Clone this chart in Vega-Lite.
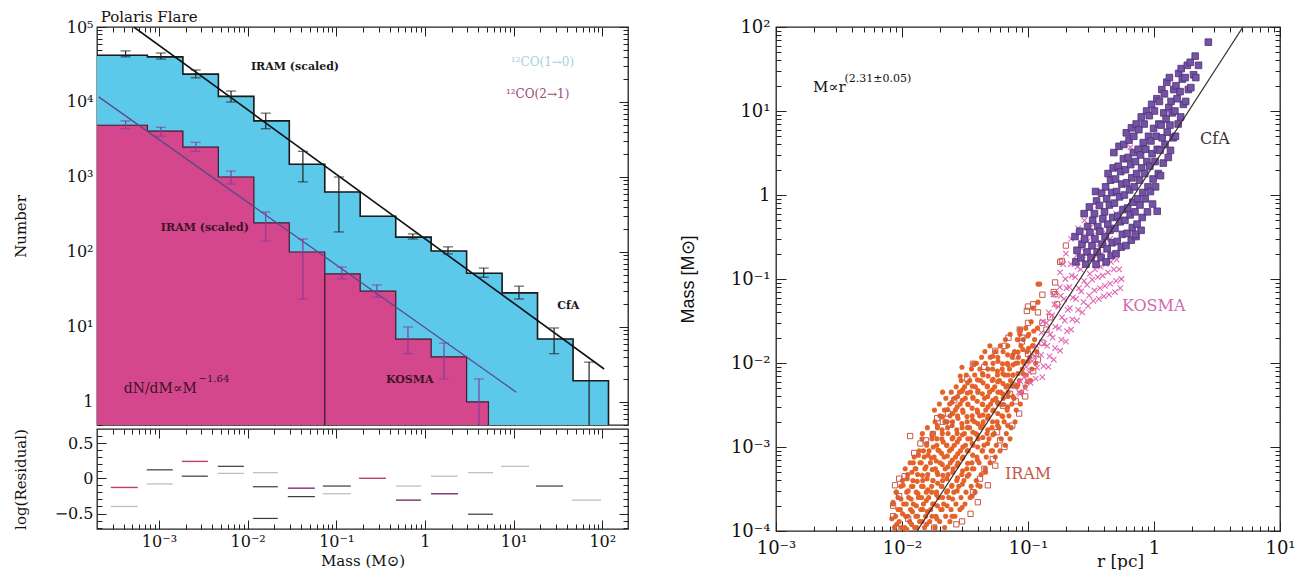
{
"$schema":"https://vega.github.io/schema/vega-lite/v6.json",
"background":"white",
"padding":{"left":12,"top":9,"right":5,"bottom":0},
"config":{
 "view":{"stroke":"#222","strokeWidth":1.3},
 "axis":{"domain":false,"grid":false,"tickColor":"#222","tickWidth":1,"labelFont":"DejaVu Serif","labelFontSize":16,"labelColor":"#111","titleFont":"DejaVu Serif","titleFontSize":15,"titleFontWeight":"normal","titleColor":"#111","labelFlush":false,"labelOverlap":false},
 "text":{"font":"DejaVu Serif"}
},
"datasets":{
 "blue":[{"lo":0.000117,"hi":0.000295,"n":42000},{"lo":0.000295,"hi":0.000741,"n":42000},{"lo":0.000741,"hi":0.00186,"n":40000},{"lo":0.00186,"hi":0.00468,"n":23500},{"lo":0.00468,"hi":0.01175,"n":11900},{"lo":0.01175,"hi":0.0295,"n":5600},{"lo":0.0295,"hi":0.0741,"n":1480},{"lo":0.0741,"hi":0.186,"n":630},{"lo":0.186,"hi":0.468,"n":300},{"lo":0.468,"hi":1.175,"n":158},{"lo":1.175,"hi":2.95,"n":103},{"lo":2.95,"hi":7.41,"n":52},{"lo":7.41,"hi":18.6,"n":28.5},{"lo":18.6,"hi":46.8,"n":6.9},{"lo":46.8,"hi":117.5,"n":1.92}],
 "blueline":[{"i":0,"m":0.000117,"n":42000},{"i":1,"m":0.000741,"n":40000},{"i":2,"m":0.00186,"n":23500},{"i":3,"m":0.00468,"n":11900},{"i":4,"m":0.01175,"n":5600},{"i":5,"m":0.0295,"n":1480},{"i":6,"m":0.0741,"n":630},{"i":7,"m":0.186,"n":300},{"i":8,"m":0.468,"n":158},{"i":9,"m":1.175,"n":103},{"i":10,"m":2.95,"n":52},{"i":11,"m":7.41,"n":28.5},{"i":12,"m":18.6,"n":6.9},{"i":13,"m":46.8,"n":1.92},{"i":14,"m":117.5,"n":1.92},{"i":15,"m":117.5,"n":0.3}],
 "pink":[{"lo":0.000117,"hi":0.000741,"n":4900},{"lo":0.000741,"hi":0.00186,"n":4100},{"lo":0.00186,"hi":0.00468,"n":2500},{"lo":0.00468,"hi":0.01175,"n":1000},{"lo":0.01175,"hi":0.0295,"n":244},{"lo":0.0295,"hi":0.0741,"n":100},{"lo":0.0741,"hi":0.186,"n":51},{"lo":0.186,"hi":0.468,"n":30},{"lo":0.468,"hi":1.175,"n":6.9},{"lo":1.175,"hi":2.95,"n":4.0},{"lo":2.95,"hi":5.2,"n":1.0}],
 "pinkline":[{"i":0,"m":0.000117,"n":4900},{"i":1,"m":0.000741,"n":4100},{"i":2,"m":0.00186,"n":2500},{"i":3,"m":0.00468,"n":1000},{"i":4,"m":0.01175,"n":244},{"i":5,"m":0.0295,"n":100},{"i":6,"m":0.0741,"n":51},{"i":7,"m":0.186,"n":30},{"i":8,"m":0.468,"n":6.9},{"i":9,"m":1.175,"n":4.0},{"i":10,"m":2.95,"n":1.0},{"i":11,"m":5.2,"n":1.0},{"i":12,"m":5.2,"n":0.3}],
 "ebblue":[{"m":0.00042,"lo":40000,"hi":48000},{"m":0.00105,"lo":37400,"hi":45000},{"m":0.0026,"lo":21000,"hi":26700},{"m":0.0065,"lo":10000,"hi":14000},{"m":0.016,"lo":4400,"hi":7100},{"m":0.042,"lo":860,"hi":2200},{"m":0.107,"lo":185,"hi":1000},{"m":0.73,"lo":149,"hi":174},{"m":1.82,"lo":94,"hi":117},{"m":4.6,"lo":46,"hi":61},{"m":11.5,"lo":23.6,"hi":35},{"m":28.6,"lo":4.4,"hi":9.7},{"m":71,"lo":0.4,"hi":3.4}],
 "ebpink":[{"m":0.00042,"lo":4400,"hi":5600},{"m":0.00105,"lo":3500,"hi":4600},{"m":0.0026,"lo":2200,"hi":2900},{"m":0.0065,"lo":807,"hi":1200},{"m":0.016,"lo":140,"hi":341},{"m":0.042,"lo":23.6,"hi":149},{"m":0.1156,"lo":43.7,"hi":63},{"m":0.287,"lo":25,"hi":36.3},{"m":0.643,"lo":4.4,"hi":10},{"m":1.64,"lo":2.03,"hi":6.1},{"m":4.07,"lo":0.4,"hi":2.03}],
 "resdark":[{"lo":0.000728,"hi":0.00143,"r":0.12},{"lo":0.00181,"hi":0.00356,"r":0.03},{"lo":0.00461,"hi":0.00906,"r":0.17},{"lo":0.01146,"hi":0.0219,"r":-0.12},{"lo":0.01146,"hi":0.0219,"r":-0.57},{"lo":0.0284,"hi":0.0573,"r":-0.26},{"lo":0.0706,"hi":0.146,"r":-0.11},{"lo":3.06,"hi":5.85,"r":-0.51},{"lo":17.9,"hi":36.1,"r":-0.11}],
 "reslight":[{"lo":0.000286,"hi":0.000577,"r":-0.40},{"lo":0.000728,"hi":0.00143,"r":-0.08},{"lo":0.00461,"hi":0.00906,"r":0.07},{"lo":0.01146,"hi":0.0219,"r":0.08},{"lo":0.0706,"hi":0.146,"r":-0.22},{"lo":0.471,"hi":0.90,"r":-0.11},{"lo":1.17,"hi":2.36,"r":0.03},{"lo":3.06,"hi":5.85,"r":0.08},{"lo":7.21,"hi":14.9,"r":0.17},{"lo":45.6,"hi":96.9,"r":-0.31}],
 "respurple":[{"lo":0.0284,"hi":0.0573,"r":-0.14},{"lo":0.471,"hi":0.90,"r":-0.31},{"lo":1.17,"hi":2.36,"r":-0.22}],
 "resred":[{"lo":0.000286,"hi":0.000577,"r":-0.13},{"lo":0.00181,"hi":0.00356,"r":0.24},{"lo":0.18,"hi":0.363,"r":0.0}],
 "iramc":[{"r":0.0083,"m":0.00014},{"r":0.0085,"m":0.00022},{"r":0.0091,"m":0.00012},{"r":0.0093,"m":0.00018},{"r":0.009,"m":0.00029},{"r":0.0099,"m":0.00011},{"r":0.0101,"m":0.00016},{"r":0.0098,"m":0.00024},{"r":0.0102,"m":0.00035},{"r":0.0109,"m":0.000105},{"r":0.0111,"m":0.00015},{"r":0.0108,"m":0.00021},{"r":0.0112,"m":0.0003},{"r":0.011,"m":0.00042},{"r":0.0119,"m":0.00012},{"r":0.0121,"m":0.00017},{"r":0.0118,"m":0.00024},{"r":0.0122,"m":0.00034},{"r":0.012,"m":0.0005},{"r":0.0123,"m":0.00065},{"r":0.0131,"m":0.00011},{"r":0.0133,"m":0.00015},{"r":0.013,"m":0.0002},{"r":0.0134,"m":0.00028},{"r":0.0132,"m":0.00039},{"r":0.0129,"m":0.00055},{"r":0.0135,"m":0.0008},{"r":0.0144,"m":0.00013},{"r":0.0146,"m":0.00018},{"r":0.0143,"m":0.00025},{"r":0.0147,"m":0.00034},{"r":0.0145,"m":0.00046},{"r":0.0142,"m":0.00065},{"r":0.0148,"m":0.0009},{"r":0.0157,"m":0.00012},{"r":0.0159,"m":0.00017},{"r":0.0156,"m":0.00023},{"r":0.016,"m":0.00031},{"r":0.0158,"m":0.00042},{"r":0.0155,"m":0.00058},{"r":0.0161,"m":0.0008},{"r":0.0157,"m":0.0011},{"r":0.0173,"m":0.00015},{"r":0.0175,"m":0.00021},{"r":0.0172,"m":0.00029},{"r":0.0176,"m":0.0004},{"r":0.0174,"m":0.00054},{"r":0.0171,"m":0.00074},{"r":0.0177,"m":0.001},{"r":0.0173,"m":0.0014},{"r":0.0189,"m":0.00014},{"r":0.0191,"m":0.0002},{"r":0.0188,"m":0.00027},{"r":0.0192,"m":0.00037},{"r":0.019,"m":0.0005},{"r":0.0187,"m":0.00068},{"r":0.0193,"m":0.00092},{"r":0.0189,"m":0.00125},{"r":0.0191,"m":0.0018},{"r":0.0208,"m":0.00018},{"r":0.021,"m":0.00025},{"r":0.0207,"m":0.00034},{"r":0.0211,"m":0.00046},{"r":0.0209,"m":0.00062},{"r":0.0206,"m":0.00084},{"r":0.0212,"m":0.00115},{"r":0.0208,"m":0.0016},{"r":0.021,"m":0.0023},{"r":0.0228,"m":0.0002},{"r":0.023,"m":0.0003},{"r":0.0227,"m":0.00042},{"r":0.0231,"m":0.00058},{"r":0.0229,"m":0.00078},{"r":0.0226,"m":0.00105},{"r":0.0232,"m":0.00145},{"r":0.0228,"m":0.002},{"r":0.023,"m":0.0028},{"r":0.025,"m":0.00015},{"r":0.0252,"m":0.00024},{"r":0.0249,"m":0.00035},{"r":0.0253,"m":0.0005},{"r":0.0251,"m":0.0007},{"r":0.0248,"m":0.00095},{"r":0.0254,"m":0.0013},{"r":0.025,"m":0.0018},{"r":0.0252,"m":0.0025},{"r":0.0249,"m":0.0034},{"r":0.0274,"m":0.0003},{"r":0.0276,"m":0.00043},{"r":0.0273,"m":0.0006},{"r":0.0277,"m":0.00083},{"r":0.0275,"m":0.00115},{"r":0.0272,"m":0.0016},{"r":0.0278,"m":0.0022},{"r":0.0274,"m":0.003},{"r":0.0276,"m":0.004},{"r":0.03,"m":0.00019},{"r":0.0301,"m":0.00036},{"r":0.0303,"m":0.00052},{"r":0.03,"m":0.00073},{"r":0.0304,"m":0.001},{"r":0.0302,"m":0.0014},{"r":0.0299,"m":0.0019},{"r":0.0305,"m":0.0026},{"r":0.0301,"m":0.0036},{"r":0.0303,"m":0.0048},{"r":0.033,"m":0.00045},{"r":0.0332,"m":0.00064},{"r":0.0329,"m":0.0009},{"r":0.0333,"m":0.00125},{"r":0.0331,"m":0.0017},{"r":0.0328,"m":0.0023},{"r":0.0334,"m":0.0032},{"r":0.033,"m":0.0044},{"r":0.0332,"m":0.0058},{"r":0.036,"m":0.00026},{"r":0.0362,"m":0.00055},{"r":0.0364,"m":0.0008},{"r":0.0361,"m":0.0011},{"r":0.0365,"m":0.0015},{"r":0.0363,"m":0.0021},{"r":0.036,"m":0.0029},{"r":0.0366,"m":0.0039},{"r":0.0362,"m":0.0053},{"r":0.04,"m":0.00035},{"r":0.0397,"m":0.0007},{"r":0.0399,"m":0.001},{"r":0.0396,"m":0.0014},{"r":0.04,"m":0.0019},{"r":0.0398,"m":0.0026},{"r":0.0395,"m":0.0035},{"r":0.0401,"m":0.0047},{"r":0.0397,"m":0.0063},{"r":0.0436,"m":0.0009},{"r":0.0438,"m":0.0013},{"r":0.0435,"m":0.0018},{"r":0.0439,"m":0.0024},{"r":0.0437,"m":0.0032},{"r":0.0434,"m":0.0043},{"r":0.044,"m":0.0058},{"r":0.0436,"m":0.0075},{"r":0.046,"m":0.0005},{"r":0.0478,"m":0.0011},{"r":0.048,"m":0.0016},{"r":0.0477,"m":0.0022},{"r":0.0481,"m":0.003},{"r":0.0479,"m":0.004},{"r":0.0476,"m":0.0053},{"r":0.0482,"m":0.007},{"r":0.0524,"m":0.0009},{"r":0.0526,"m":0.0014},{"r":0.0523,"m":0.002},{"r":0.0527,"m":0.0027},{"r":0.0525,"m":0.0036},{"r":0.0522,"m":0.0048},{"r":0.0528,"m":0.0064},{"r":0.0524,"m":0.0085},{"r":0.0526,"m":0.012},{"r":0.0574,"m":0.0018},{"r":0.0576,"m":0.0025},{"r":0.0573,"m":0.0034},{"r":0.0577,"m":0.0045},{"r":0.0575,"m":0.006},{"r":0.0572,"m":0.008},{"r":0.0578,"m":0.0105},{"r":0.063,"m":0.0023},{"r":0.0632,"m":0.0032},{"r":0.0629,"m":0.0043},{"r":0.0633,"m":0.0057},{"r":0.0631,"m":0.0075},{"r":0.0628,"m":0.0098},{"r":0.069,"m":0.0018},{"r":0.0691,"m":0.003},{"r":0.0693,"m":0.004},{"r":0.069,"m":0.0054},{"r":0.0694,"m":0.0072},{"r":0.0692,"m":0.0095},{"r":0.0689,"m":0.0125},{"r":0.0758,"m":0.004},{"r":0.076,"m":0.0054},{"r":0.0757,"m":0.0072},{"r":0.0761,"m":0.0095},{"r":0.0759,"m":0.0125},{"r":0.0831,"m":0.0055},{"r":0.0833,"m":0.0075},{"r":0.083,"m":0.01},{"r":0.0834,"m":0.0135},{"r":0.0911,"m":0.0075},{"r":0.0913,"m":0.0105},{"r":0.091,"m":0.0145},{"r":0.099,"m":0.006},{"r":0.1,"m":0.0105},{"r":0.101,"m":0.015},{"r":0.0995,"m":0.021},{"r":0.109,"m":0.016},{"r":0.111,"m":0.024},{"r":0.029,"m":0.007},{"r":0.0299,"m":0.0089},{"r":0.021,"m":0.0045},{"r":0.0299,"m":0.0046},{"r":0.12,"m":0.087},{"r":0.12,"m":0.053},{"r":0.124,"m":0.087},{"r":0.11,"m":0.045},{"r":0.086,"m":0.025},{"r":0.037,"m":0.0098},
 {"r":0.0087,"m":0.00011},{"r":0.0089,"m":0.00015},{"r":0.0085,"m":0.00021},{"r":0.009,"m":0.00029},{"r":0.0095,"m":0.00013},{"r":0.0097,"m":0.00018},{"r":0.0093,"m":0.00025},{"r":0.0098,"m":0.00034},{"r":0.0105,"m":0.00011},{"r":0.0107,"m":0.00015},{"r":0.0103,"m":0.00021},{"r":0.0109,"m":0.00029},{"r":0.0101,"m":0.0004},{"r":0.0106,"m":0.00055},{"r":0.0115,"m":0.00013},{"r":0.0117,"m":0.00018},{"r":0.0113,"m":0.00025},{"r":0.0119,"m":0.00034},{"r":0.0111,"m":0.00047},{"r":0.0116,"m":0.00065},{"r":0.0126,"m":0.00011},{"r":0.0129,"m":0.00015},{"r":0.0123,"m":0.00021},{"r":0.013,"m":0.00029},{"r":0.0122,"m":0.0004},{"r":0.0127,"m":0.00055},{"r":0.0125,"m":0.00076},{"r":0.0138,"m":0.00013},{"r":0.0141,"m":0.00018},{"r":0.0135,"m":0.00025},{"r":0.0143,"m":0.00034},{"r":0.0133,"m":0.00047},{"r":0.0139,"m":0.00065},{"r":0.0137,"m":0.0009},{"r":0.0144,"m":0.00125},{"r":0.0151,"m":0.00011},{"r":0.0154,"m":0.00015},{"r":0.0148,"m":0.00021},{"r":0.0156,"m":0.00029},{"r":0.0146,"m":0.0004},{"r":0.0152,"m":0.00055},{"r":0.015,"m":0.00076},{"r":0.0157,"m":0.00105},{"r":0.0145,"m":0.00145},{"r":0.0166,"m":0.00013},{"r":0.0169,"m":0.00018},{"r":0.0163,"m":0.00025},{"r":0.0172,"m":0.00034},{"r":0.016,"m":0.00047},{"r":0.0168,"m":0.00065},{"r":0.0164,"m":0.0009},{"r":0.0173,"m":0.00125},{"r":0.0159,"m":0.0017},{"r":0.0182,"m":0.00011},{"r":0.0186,"m":0.00015},{"r":0.0178,"m":0.00021},{"r":0.0188,"m":0.00029},{"r":0.0176,"m":0.0004},{"r":0.0184,"m":0.00055},{"r":0.018,"m":0.00076},{"r":0.0189,"m":0.00105},{"r":0.0175,"m":0.00145},{"r":0.0183,"m":0.002},{"r":0.0181,"m":0.00275},{"r":0.0199,"m":0.00013},{"r":0.0203,"m":0.00018},{"r":0.0195,"m":0.00025},{"r":0.0206,"m":0.00034},{"r":0.0192,"m":0.00047},{"r":0.0201,"m":0.00065},{"r":0.0197,"m":0.0009},{"r":0.0207,"m":0.00125},{"r":0.0191,"m":0.0017},{"r":0.02,"m":0.00235},{"r":0.0198,"m":0.00325},{"r":0.0218,"m":0.00011},{"r":0.0222,"m":0.00015},{"r":0.0214,"m":0.00021},{"r":0.0226,"m":0.00029},{"r":0.021,"m":0.0004},{"r":0.022,"m":0.00055},{"r":0.0216,"m":0.00076},{"r":0.0227,"m":0.00105},{"r":0.0209,"m":0.00145},{"r":0.0219,"m":0.002},{"r":0.0217,"m":0.00275},{"r":0.0223,"m":0.0038},{"r":0.024,"m":0.00013},{"r":0.0245,"m":0.00018},{"r":0.0235,"m":0.00025},{"r":0.0248,"m":0.00034},{"r":0.0232,"m":0.00047},{"r":0.0242,"m":0.00065},{"r":0.0238,"m":0.0009},{"r":0.025,"m":0.00125},{"r":0.023,"m":0.0017},{"r":0.0241,"m":0.00235},{"r":0.0239,"m":0.00325},{"r":0.0246,"m":0.0045},{"r":0.0263,"m":0.00015},{"r":0.0268,"m":0.00021},{"r":0.0258,"m":0.00029},{"r":0.0272,"m":0.0004},{"r":0.0254,"m":0.00055},{"r":0.0266,"m":0.00076},{"r":0.026,"m":0.00105},{"r":0.0274,"m":0.00145},{"r":0.0252,"m":0.002},{"r":0.0265,"m":0.00275},{"r":0.0261,"m":0.0038},{"r":0.0269,"m":0.0052},{"r":0.0288,"m":0.00018},{"r":0.0294,"m":0.00025},{"r":0.0282,"m":0.00034},{"r":0.0298,"m":0.00047},{"r":0.0278,"m":0.00065},{"r":0.0291,"m":0.0009},{"r":0.0285,"m":0.00125},{"r":0.03,"m":0.0017},{"r":0.0276,"m":0.00235},{"r":0.029,"m":0.00325},{"r":0.0286,"m":0.0045},{"r":0.0295,"m":0.0062},{"r":0.0316,"m":0.00021},{"r":0.0322,"m":0.00029},{"r":0.031,"m":0.0004},{"r":0.0327,"m":0.00055},{"r":0.0305,"m":0.00076},{"r":0.0319,"m":0.00105},{"r":0.0313,"m":0.00145},{"r":0.0329,"m":0.002},{"r":0.0303,"m":0.00275},{"r":0.0318,"m":0.0038},{"r":0.0314,"m":0.0052},{"r":0.0324,"m":0.0072},{"r":0.0347,"m":0.00025},{"r":0.0354,"m":0.00034},{"r":0.034,"m":0.00047},{"r":0.0359,"m":0.00065},{"r":0.0335,"m":0.0009},{"r":0.035,"m":0.00125},{"r":0.0344,"m":0.0017},{"r":0.0361,"m":0.00235},{"r":0.0333,"m":0.00325},{"r":0.0349,"m":0.0045},{"r":0.0345,"m":0.0062},{"r":0.0356,"m":0.0085},{"r":0.038,"m":0.00029},{"r":0.0388,"m":0.0004},{"r":0.0372,"m":0.00055},{"r":0.0393,"m":0.00076},{"r":0.0367,"m":0.00105},{"r":0.0384,"m":0.00145},{"r":0.0376,"m":0.002},{"r":0.0395,"m":0.00275},{"r":0.0365,"m":0.0038},{"r":0.0382,"m":0.0052},{"r":0.0378,"m":0.0072},{"r":0.039,"m":0.0099},{"r":0.0417,"m":0.00034},{"r":0.0425,"m":0.00047},{"r":0.0409,"m":0.00065},{"r":0.0432,"m":0.0009},{"r":0.0402,"m":0.00125},{"r":0.0421,"m":0.0017},{"r":0.0413,"m":0.00235},{"r":0.0434,"m":0.00325},{"r":0.04,"m":0.0045},{"r":0.0419,"m":0.0062},{"r":0.0415,"m":0.0085},{"r":0.0428,"m":0.0117},{"r":0.0457,"m":0.00055},{"r":0.0466,"m":0.00076},{"r":0.0448,"m":0.00105},{"r":0.0473,"m":0.00145},{"r":0.0441,"m":0.002},{"r":0.0462,"m":0.00275},{"r":0.0452,"m":0.0038},{"r":0.0475,"m":0.0052},{"r":0.0439,"m":0.0072},{"r":0.0459,"m":0.0099},{"r":0.0455,"m":0.0137},{"r":0.05,"m":0.00065},{"r":0.051,"m":0.0009},{"r":0.049,"m":0.00125},{"r":0.0518,"m":0.0017},{"r":0.0483,"m":0.00235},{"r":0.0505,"m":0.00325},{"r":0.0495,"m":0.0045},{"r":0.052,"m":0.0062},{"r":0.048,"m":0.0085},{"r":0.0502,"m":0.0117},{"r":0.0498,"m":0.016},{"r":0.055,"m":0.00076},{"r":0.0561,"m":0.00105},{"r":0.0539,"m":0.00145},{"r":0.0569,"m":0.002},{"r":0.0531,"m":0.00275},{"r":0.0556,"m":0.0038},{"r":0.0545,"m":0.0052},{"r":0.0572,"m":0.0072},{"r":0.0528,"m":0.0099},{"r":0.0552,"m":0.0137},{"r":0.06,"m":0.0009},{"r":0.0612,"m":0.00125},{"r":0.0588,"m":0.0017},{"r":0.0621,"m":0.00235},{"r":0.0579,"m":0.00325},{"r":0.0606,"m":0.0045},{"r":0.0594,"m":0.0062},{"r":0.0624,"m":0.0085},{"r":0.0576,"m":0.0117},{"r":0.0602,"m":0.016},{"r":0.066,"m":0.00105},{"r":0.0673,"m":0.00145},{"r":0.0647,"m":0.002},{"r":0.0683,"m":0.00275},{"r":0.0637,"m":0.0038},{"r":0.0667,"m":0.0052},{"r":0.0653,"m":0.0072},{"r":0.0686,"m":0.0099},{"r":0.0634,"m":0.0137},{"r":0.0662,"m":0.019},{"r":0.072,"m":0.00125},{"r":0.0734,"m":0.0017},{"r":0.0706,"m":0.00235},{"r":0.0745,"m":0.00325},{"r":0.0695,"m":0.0045},{"r":0.0727,"m":0.0062},{"r":0.0713,"m":0.0085},{"r":0.0749,"m":0.0117},{"r":0.0691,"m":0.016},{"r":0.0722,"m":0.022},{"r":0.079,"m":0.002},{"r":0.0806,"m":0.00275},{"r":0.0774,"m":0.0038},{"r":0.0818,"m":0.0052},{"r":0.0762,"m":0.0072},{"r":0.0798,"m":0.0099},{"r":0.0782,"m":0.0137},{"r":0.0822,"m":0.019},{"r":0.087,"m":0.00325},{"r":0.0887,"m":0.0045},{"r":0.0853,"m":0.0062},{"r":0.09,"m":0.0085},{"r":0.084,"m":0.0117},{"r":0.0879,"m":0.016},{"r":0.0861,"m":0.022},{"r":0.095,"m":0.0052},{"r":0.0969,"m":0.0072},{"r":0.0931,"m":0.0099},{"r":0.0983,"m":0.0137},{"r":0.0917,"m":0.019},{"r":0.096,"m":0.026},{"r":0.105,"m":0.0062},{"r":0.1071,"m":0.0085},{"r":0.1029,"m":0.0117},{"r":0.1087,"m":0.016},{"r":0.1013,"m":0.022},{"r":0.106,"m":0.031},{"r":0.115,"m":0.0099},{"r":0.1173,"m":0.0137},{"r":0.1127,"m":0.019},{"r":0.119,"m":0.026}],
 "irams":[{"r":0.0116,"m":0.00135},{"r":0.0088,"m":0.00035},{"r":0.0085,"m":0.0002},{"r":0.0085,"m":0.00015},{"r":0.0112,"m":0.00014},{"r":0.0176,"m":0.00143},{"r":0.0211,"m":0.002},{"r":0.024,"m":0.00185},{"r":0.0232,"m":0.0025},{"r":0.0366,"m":0.0098},{"r":0.0634,"m":0.0031},{"r":0.0568,"m":0.0015},{"r":0.0526,"m":0.00072},{"r":0.0416,"m":0.00042},{"r":0.0366,"m":0.00029},{"r":0.0719,"m":0.0043},{"r":0.0764,"m":0.0054},{"r":0.1,"m":0.0128},{"r":0.0895,"m":0.018},{"r":0.086,"m":0.025},{"r":0.098,"m":0.0417},{"r":0.1,"m":0.047},{"r":0.164,"m":0.091},{"r":0.164,"m":0.066},{"r":0.186,"m":0.164},{"r":0.13,"m":0.0175},{"r":0.115,"m":0.013},{"r":0.018,"m":0.00011},{"r":0.027,"m":0.00012},{"r":0.045,"m":0.00055},{"r":0.06,"m":0.0012},{"r":0.08,"m":0.0035},{"r":0.014,"m":0.0011},{"r":0.0095,"m":0.00042},{"r":0.009,"m":0.00011},{"r":0.0095,"m":0.00026},{"r":0.0105,"m":0.00045},{"r":0.0125,"m":0.00085},{"r":0.0155,"m":0.0012},{"r":0.019,"m":0.0022},{"r":0.026,"m":0.0036},{"r":0.033,"m":0.0065},{"r":0.045,"m":0.009},{"r":0.055,"m":0.014},{"r":0.065,"m":0.016},{"r":0.07,"m":0.02},{"r":0.03,"m":0.00013},{"r":0.035,"m":0.00016},{"r":0.04,"m":0.00022},{"r":0.048,"m":0.00035},{"r":0.055,"m":0.0006},{"r":0.065,"m":0.001},{"r":0.075,"m":0.0018},{"r":0.085,"m":0.0025},{"r":0.095,"m":0.004},{"r":0.11,"m":0.008},{"r":0.12,"m":0.011},{"r":0.14,"m":0.025},{"r":0.15,"m":0.035},{"r":0.17,"m":0.05},{"r":0.13,"m":0.03},{"r":0.16,"m":0.07},{"r":0.08,"m":0.012},{"r":0.09,"m":0.02},{"r":0.1,"m":0.03},{"r":0.11,"m":0.05},{"r":0.12,"m":0.04},{"r":0.13,"m":0.065},{"r":0.18,"m":0.16},{"r":0.2,"m":0.25}],
 "kosma":[{"r":0.085,"m":0.0045},{"r":0.087,"m":0.006},{"r":0.095,"m":0.005},{"r":0.093,"m":0.0068},{"r":0.097,"m":0.009},{"r":0.105,"m":0.0058},{"r":0.102,"m":0.0078},{"r":0.108,"m":0.0105},{"r":0.115,"m":0.0065},{"r":0.118,"m":0.0088},{"r":0.112,"m":0.012},{"r":0.117,"m":0.016},{"r":0.13,"m":0.0068},{"r":0.133,"m":0.0092},{"r":0.127,"m":0.0125},{"r":0.134,"m":0.017},{"r":0.128,"m":0.023},{"r":0.131,"m":0.031},{"r":0.145,"m":0.009},{"r":0.148,"m":0.012},{"r":0.142,"m":0.016},{"r":0.15,"m":0.022},{"r":0.14,"m":0.03},{"r":0.146,"m":0.04},{"r":0.16,"m":0.011},{"r":0.164,"m":0.015},{"r":0.157,"m":0.02},{"r":0.165,"m":0.027},{"r":0.155,"m":0.037},{"r":0.162,"m":0.05},{"r":0.159,"m":0.065},{"r":0.18,"m":0.014},{"r":0.184,"m":0.019},{"r":0.176,"m":0.026},{"r":0.186,"m":0.035},{"r":0.174,"m":0.047},{"r":0.182,"m":0.063},{"r":0.179,"m":0.08},{"r":0.2,"m":0.018},{"r":0.204,"m":0.024},{"r":0.196,"m":0.032},{"r":0.207,"m":0.043},{"r":0.193,"m":0.058},{"r":0.202,"m":0.078},{"r":0.198,"m":0.1},{"r":0.22,"m":0.025},{"r":0.225,"m":0.033},{"r":0.215,"m":0.045},{"r":0.227,"m":0.06},{"r":0.213,"m":0.08},{"r":0.222,"m":0.11},{"r":0.218,"m":0.15},{"r":0.245,"m":0.032},{"r":0.25,"m":0.043},{"r":0.24,"m":0.058},{"r":0.253,"m":0.078},{"r":0.237,"m":0.105},{"r":0.247,"m":0.14},{"r":0.243,"m":0.19},{"r":0.27,"m":0.04},{"r":0.276,"m":0.053},{"r":0.264,"m":0.071},{"r":0.279,"m":0.095},{"r":0.261,"m":0.13},{"r":0.273,"m":0.17},{"r":0.267,"m":0.23},{"r":0.272,"m":0.32},{"r":0.3,"m":0.048},{"r":0.306,"m":0.064},{"r":0.294,"m":0.085},{"r":0.31,"m":0.115},{"r":0.29,"m":0.155},{"r":0.303,"m":0.21},{"r":0.297,"m":0.28},{"r":0.302,"m":0.37},{"r":0.33,"m":0.055},{"r":0.337,"m":0.073},{"r":0.323,"m":0.098},{"r":0.341,"m":0.13},{"r":0.319,"m":0.175},{"r":0.334,"m":0.24},{"r":0.327,"m":0.33},{"r":0.332,"m":0.45},{"r":0.365,"m":0.058},{"r":0.372,"m":0.078},{"r":0.358,"m":0.105},{"r":0.377,"m":0.14},{"r":0.353,"m":0.19},{"r":0.368,"m":0.26},{"r":0.362,"m":0.36},{"r":0.4,"m":0.062},{"r":0.408,"m":0.083},{"r":0.392,"m":0.11},{"r":0.413,"m":0.15},{"r":0.387,"m":0.2},{"r":0.404,"m":0.28},{"r":0.44,"m":0.065},{"r":0.449,"m":0.088},{"r":0.431,"m":0.12},{"r":0.455,"m":0.16},{"r":0.426,"m":0.22},{"r":0.49,"m":0.07},{"r":0.5,"m":0.095},{"r":0.48,"m":0.13},{"r":0.505,"m":0.17},{"r":0.54,"m":0.078},{"r":0.551,"m":0.1},{"r":0.529,"m":0.13},{"r":0.65,"m":3.7},{"r":0.5,"m":0.6},{"r":0.2,"m":0.2},{"r":0.086,"m":0.0043},{"r":0.098,"m":0.0062},{"r":0.3,"m":0.45},{"r":0.33,"m":0.6},{"r":0.36,"m":0.75},{"r":0.4,"m":0.5},{"r":0.42,"m":0.35},{"r":0.28,"m":0.5},{"r":0.25,"m":0.4},{"r":0.45,"m":0.3},{"r":0.38,"m":0.25},{"r":0.22,"m":0.3},{"r":0.19,"m":0.15},{"r":0.18,"m":0.12}],
 "cfa":[{"r":0.24,"m":0.16},{"r":0.245,"m":0.22},{"r":0.236,"m":0.32},{"r":0.263,"m":0.18},{"r":0.268,"m":0.26},{"r":0.258,"m":0.37},{"r":0.288,"m":0.15},{"r":0.294,"m":0.21},{"r":0.282,"m":0.3},{"r":0.297,"m":0.42},{"r":0.279,"m":0.6},{"r":0.316,"m":0.18},{"r":0.322,"m":0.25},{"r":0.31,"m":0.36},{"r":0.326,"m":0.5},{"r":0.307,"m":0.72},{"r":0.347,"m":0.15},{"r":0.354,"m":0.21},{"r":0.34,"m":0.3},{"r":0.358,"m":0.42},{"r":0.337,"m":0.6},{"r":0.35,"m":0.85},{"r":0.344,"m":1.1},{"r":0.38,"m":0.18},{"r":0.388,"m":0.26},{"r":0.372,"m":0.37},{"r":0.392,"m":0.52},{"r":0.369,"m":0.75},{"r":0.384,"m":1.05},{"r":0.417,"m":0.16},{"r":0.425,"m":0.23},{"r":0.409,"m":0.32},{"r":0.43,"m":0.45},{"r":0.405,"m":0.63},{"r":0.421,"m":0.9},{"r":0.413,"m":1.25},{"r":0.432,"m":1.8},{"r":0.457,"m":0.19},{"r":0.466,"m":0.27},{"r":0.448,"m":0.38},{"r":0.471,"m":0.54},{"r":0.443,"m":0.76},{"r":0.462,"m":1.07},{"r":0.452,"m":1.5},{"r":0.474,"m":2.1},{"r":0.5,"m":0.2},{"r":0.51,"m":0.28},{"r":0.49,"m":0.4},{"r":0.515,"m":0.56},{"r":0.485,"m":0.8},{"r":0.505,"m":1.1},{"r":0.495,"m":1.55},{"r":0.52,"m":2.2},{"r":0.48,"m":3.2},{"r":0.55,"m":0.24},{"r":0.561,"m":0.34},{"r":0.539,"m":0.48},{"r":0.567,"m":0.67},{"r":0.533,"m":0.95},{"r":0.556,"m":1.35},{"r":0.544,"m":1.9},{"r":0.572,"m":2.7},{"r":0.528,"m":3.8},{"r":0.6,"m":0.25},{"r":0.612,"m":0.35},{"r":0.588,"m":0.5},{"r":0.618,"m":0.7},{"r":0.582,"m":1.0},{"r":0.606,"m":1.4},{"r":0.594,"m":2.0},{"r":0.624,"m":2.8},{"r":0.576,"m":4.0},{"r":0.603,"m":5.5},{"r":0.66,"m":0.29},{"r":0.673,"m":0.41},{"r":0.647,"m":0.58},{"r":0.68,"m":0.82},{"r":0.64,"m":1.15},{"r":0.667,"m":1.6},{"r":0.653,"m":2.3},{"r":0.686,"m":3.2},{"r":0.634,"m":4.5},{"r":0.662,"m":6.3},{"r":0.72,"m":0.32},{"r":0.734,"m":0.45},{"r":0.706,"m":0.63},{"r":0.742,"m":0.9},{"r":0.698,"m":1.25},{"r":0.727,"m":1.8},{"r":0.713,"m":2.5},{"r":0.749,"m":3.5},{"r":0.691,"m":5.0},{"r":0.722,"m":7.0},{"r":0.79,"m":0.38},{"r":0.806,"m":0.54},{"r":0.774,"m":0.76},{"r":0.814,"m":1.07},{"r":0.766,"m":1.5},{"r":0.798,"m":2.1},{"r":0.782,"m":3.0},{"r":0.822,"m":4.2},{"r":0.758,"m":6.0},{"r":0.792,"m":8.5},{"r":0.887,"m":0.63},{"r":0.853,"m":0.9},{"r":0.896,"m":1.25},{"r":0.844,"m":1.8},{"r":0.879,"m":2.5},{"r":0.861,"m":3.5},{"r":0.905,"m":5.0},{"r":0.835,"m":7.0},{"r":0.873,"m":10},{"r":0.974,"m":0.78},{"r":0.936,"m":1.1},{"r":0.984,"m":1.55},{"r":0.926,"m":2.2},{"r":0.965,"m":3.1},{"r":0.945,"m":4.4},{"r":0.993,"m":6.2},{"r":0.917,"m":8.8},{"r":0.958,"m":12},{"r":1.029,"m":1.25},{"r":1.082,"m":1.8},{"r":1.019,"m":2.5},{"r":1.061,"m":3.5},{"r":1.04,"m":5.0},{"r":1.092,"m":7.0},{"r":1.008,"m":10},{"r":1.053,"m":14},{"r":1.127,"m":1.7},{"r":1.185,"m":2.4},{"r":1.116,"m":3.4},{"r":1.162,"m":4.8},{"r":1.139,"m":6.8},{"r":1.196,"m":9.5},{"r":1.104,"m":13},{"r":1.154,"m":18},{"r":1.298,"m":2.8},{"r":1.222,"m":4.0},{"r":1.273,"m":5.6},{"r":1.247,"m":8.0},{"r":1.31,"m":11},{"r":1.21,"m":16},{"r":1.264,"m":22},{"r":1.352,"m":3.4},{"r":1.421,"m":4.8},{"r":1.339,"m":6.8},{"r":1.394,"m":9.5},{"r":1.366,"m":13},{"r":1.435,"m":18},{"r":1.325,"m":25},{"r":1.48,"m":5},{"r":1.555,"m":7},{"r":1.465,"m":10},{"r":1.525,"m":14},{"r":1.495,"m":20},{"r":1.57,"m":28},{"r":1.627,"m":8.5},{"r":1.71,"m":12},{"r":1.61,"m":17},{"r":1.677,"m":24},{"r":1.643,"m":32},{"r":1.784,"m":13},{"r":1.875,"m":18},{"r":1.765,"m":25},{"r":1.838,"m":35},{"r":1.96,"m":19},{"r":2.06,"m":27},{"r":1.94,"m":38},{"r":2.146,"m":25},{"r":2.256,"m":35},{"r":2.124,"m":45},{"r":2.7,"m":66},{"r":1.06,"m":0.64},{"r":0.71,"m":0.34}]
},
"hconcat":[
 {"vconcat":[
  {"width":531,"height":398,
   "layer":[
    {"data":{"name":"blue"},"mark":{"type":"rect","clip":true,"color":"#5cc8ea","stroke":"#5cc8ea","strokeWidth":0.8},
     "encoding":{"x":{"field":"lo","type":"quantitative","scale":{"type":"log","domain":[0.0002,195],"nice":false},"axis":{"orient":"bottom","values":[0.001,0.01,0.1,1,10,100],"labels":false,"title":null,"tickSize":-9}},"x2":{"field":"hi"},
      "y":{"field":"n","type":"quantitative","scale":{"type":"log","domain":[0.493,100000],"nice":false},"axis":{"orient":"left","values":[1,10,100,1000,10000,100000],"labelExpr":"datum.value < 5 ? '1' : datum.value < 50 ? '10¹' : datum.value < 500 ? '10²' : datum.value < 5000 ? '10³' : datum.value < 50000 ? '10⁴' : '10⁵'","tickSize":-9,"labelPadding":13,"title":"Number","titleX":-77,"titleBaseline":"middle"}},"y2":{"datum":0.493}}},
    {"data":{"name":"pink"},"mark":{"type":"rect","clip":true,"color":"#d4478d","stroke":"#d4478d","strokeWidth":0.8},
     "encoding":{"x":{"field":"lo","type":"quantitative","scale":{"type":"log","domain":[0.0002,195],"nice":false},"axis":{"orient":"bottom","values":[0.0003,0.0004,0.0005,0.0006,0.0007,0.0008,0.0009,0.002,0.003,0.004,0.005,0.006,0.007,0.008,0.009,0.02,0.03,0.04,0.05,0.06,0.07,0.08,0.09,0.2,0.3,0.4,0.5,0.6,0.7,0.8,0.9,2,3,4,5,6,7,8,9,20,30,40,50,60,70,80,90],"labels":false,"title":null,"tickSize":-5}},"x2":{"field":"hi"},
      "y":{"field":"n","type":"quantitative","scale":{"type":"log","domain":[0.493,100000],"nice":false},"axis":{"orient":"left","values":[0.5,0.6,0.7,0.8,0.9,2,3,4,5,6,7,8,9,20,30,40,50,60,70,80,90,200,300,400,500,600,700,800,900,2000,3000,4000,5000,6000,7000,8000,9000,20000,30000,40000,50000,60000,70000,80000,90000],"labels":false,"title":null,"tickSize":-5}},"y2":{"datum":0.493}}},
    {"data":{"name":"blueline"},"mark":{"type":"line","interpolate":"step-after","clip":true,"color":"#1a1a1a","strokeWidth":1.6},
     "encoding":{"x":{"field":"m","type":"quantitative","scale":{"type":"log","domain":[0.0002,195],"nice":false},"axis":{"orient":"top","values":[0.001,0.01,0.1,1,10,100],"labels":false,"title":null,"tickSize":-9}},
      "y":{"field":"n","type":"quantitative","scale":{"type":"log","domain":[0.493,100000],"nice":false},"axis":{"orient":"right","values":[1,10,100,1000,10000,100000],"labels":false,"title":null,"tickSize":-9}},"order":{"field":"i","type":"quantitative"}}},
    {"data":{"name":"pinkline"},"mark":{"type":"line","interpolate":"step-after","clip":true,"color":"#3a2436","strokeWidth":1.2},
     "encoding":{"x":{"field":"m","type":"quantitative","scale":{"type":"log","domain":[0.0002,195],"nice":false},"axis":{"orient":"top","values":[0.0003,0.0004,0.0005,0.0006,0.0007,0.0008,0.0009,0.002,0.003,0.004,0.005,0.006,0.007,0.008,0.009,0.02,0.03,0.04,0.05,0.06,0.07,0.08,0.09,0.2,0.3,0.4,0.5,0.6,0.7,0.8,0.9,2,3,4,5,6,7,8,9,20,30,40,50,60,70,80,90],"labels":false,"title":null,"tickSize":-5}},
      "y":{"field":"n","type":"quantitative","scale":{"type":"log","domain":[0.493,100000],"nice":false},"axis":{"orient":"right","values":[0.5,0.6,0.7,0.8,0.9,2,3,4,5,6,7,8,9,20,30,40,50,60,70,80,90,200,300,400,500,600,700,800,900,2000,3000,4000,5000,6000,7000,8000,9000,20000,30000,40000,50000,60000,70000,80000,90000],"labels":false,"title":null,"tickSize":-5}},"order":{"field":"i","type":"quantitative"}}},
    {"data":{"values":[{"m":0.0741,"lo":0.3,"hi":51}]},"mark":{"type":"rule","clip":true,"color":"#2a1a2a","strokeWidth":1.2},
     "encoding":{"x":{"field":"m","type":"quantitative","axis":null},"y":{"field":"lo","type":"quantitative","axis":null},"y2":{"field":"hi"}}},
    {"data":{"values":[{"m":0.00052,"n":100000},{"m":105,"n":2.75}]},"mark":{"type":"line","clip":true,"color":"#111","strokeWidth":1.6},
     "encoding":{"x":{"field":"m","type":"quantitative","axis":null},"y":{"field":"n","type":"quantitative","axis":null}}},
    {"data":{"values":[{"m":0.000209,"n":11700},{"m":10.7,"n":1.35}]},"mark":{"type":"line","clip":true,"color":"#5a4a88","strokeWidth":1.3},
     "encoding":{"x":{"field":"m","type":"quantitative","axis":null},"y":{"field":"n","type":"quantitative","axis":null}}},
    {"data":{"name":"ebblue"},"mark":{"type":"rule","clip":true,"color":"#222","strokeWidth":1.2},
     "encoding":{"x":{"field":"m","type":"quantitative","axis":null},"y":{"field":"lo","type":"quantitative","axis":null},"y2":{"field":"hi"}}},
    {"data":{"name":"ebblue"},"mark":{"type":"tick","orient":"horizontal","size":10,"thickness":1.2,"clip":true,"color":"#222"},
     "encoding":{"x":{"field":"m","type":"quantitative","axis":null},"y":{"field":"lo","type":"quantitative","axis":null}}},
    {"data":{"name":"ebblue"},"mark":{"type":"tick","orient":"horizontal","size":10,"thickness":1.2,"clip":true,"color":"#222"},
     "encoding":{"x":{"field":"m","type":"quantitative","axis":null},"y":{"field":"hi","type":"quantitative","axis":null}}},
    {"data":{"name":"ebpink"},"mark":{"type":"rule","clip":true,"color":"#8c3a9c","strokeWidth":1.2},
     "encoding":{"x":{"field":"m","type":"quantitative","axis":null},"y":{"field":"lo","type":"quantitative","axis":null},"y2":{"field":"hi"}}},
    {"data":{"name":"ebpink"},"mark":{"type":"tick","orient":"horizontal","size":10,"thickness":1.2,"clip":true,"color":"#8c3a9c"},
     "encoding":{"x":{"field":"m","type":"quantitative","axis":null},"y":{"field":"lo","type":"quantitative","axis":null}}},
    {"data":{"name":"ebpink"},"mark":{"type":"tick","orient":"horizontal","size":10,"thickness":1.2,"clip":true,"color":"#8c3a9c"},
     "encoding":{"x":{"field":"m","type":"quantitative","axis":null},"y":{"field":"hi","type":"quantitative","axis":null}}},
    {"data":{"values":[{"m":0.00022,"n":117000,"t":"Polaris Flare"}]},"mark":{"type":"text","align":"left","baseline":"alphabetic","fontSize":15,"color":"#111"},
     "encoding":{"x":{"field":"m","type":"quantitative","axis":null},"y":{"field":"n","type":"quantitative","axis":null},"text":{"field":"t"}}},
    {"data":{"values":[{"m":0.0109,"n":29300,"t":"IRAM  (scaled)"},{"m":31,"n":19,"t":"CfA"}]},"mark":{"type":"text","align":"left","baseline":"middle","fontSize":11,"fontWeight":"bold","color":"#1a1a1a"},
     "encoding":{"x":{"field":"m","type":"quantitative","axis":null},"y":{"field":"n","type":"quantitative","axis":null},"text":{"field":"t"}}},
    {"data":{"values":[{"m":0.00105,"n":209,"t":"IRAM (scaled)"},{"m":0.363,"n":1.96,"t":"KOSMA"}]},"mark":{"type":"text","align":"left","baseline":"middle","fontSize":11,"fontWeight":"bold","color":"#3a1428"},
     "encoding":{"x":{"field":"m","type":"quantitative","axis":null},"y":{"field":"n","type":"quantitative","axis":null},"text":{"field":"t"}}},
    {"data":{"values":[{"m":0.0004,"n":1.49,"t":"dN/dM∝M"}]},"mark":{"type":"text","align":"left","baseline":"middle","fontSize":14,"color":"#3a1428"},
     "encoding":{"x":{"field":"m","type":"quantitative","axis":null},"y":{"field":"n","type":"quantitative","axis":null},"text":{"field":"t"}}},
    {"data":{"values":[{"m":0.0028,"n":2.03,"t":"−1.64"}]},"mark":{"type":"text","align":"left","baseline":"middle","fontSize":10,"color":"#3a1428"},
     "encoding":{"x":{"field":"m","type":"quantitative","axis":null},"y":{"field":"n","type":"quantitative","axis":null},"text":{"field":"t"}}},
    {"data":{"values":[{"m":9.3,"n":34000,"t":"¹²CO(1→0)"}]},"mark":{"type":"text","align":"left","baseline":"middle","fontSize":12,"color":"#a6cfdc"},
     "encoding":{"x":{"field":"m","type":"quantitative","axis":null},"y":{"field":"n","type":"quantitative","axis":null},"text":{"field":"t"}}},
    {"data":{"values":[{"m":8.2,"n":12800,"t":"¹²CO(2→1)"}]},"mark":{"type":"text","align":"left","baseline":"middle","fontSize":12,"color":"#9c4a78"},
     "encoding":{"x":{"field":"m","type":"quantitative","axis":null},"y":{"field":"n","type":"quantitative","axis":null},"text":{"field":"t"}}}
   ],
   "resolve":{"axis":{"x":"independent","y":"independent"}}},
  {"width":531,"height":100,
   "layer":[
    {"data":{"name":"resdark"},"mark":{"type":"rule","color":"#3a3a3a","strokeWidth":1.2},
     "encoding":{"x":{"field":"lo","type":"quantitative","scale":{"type":"log","domain":[0.0002,195],"nice":false},"axis":{"orient":"bottom","values":[0.001,0.01,0.1,1,10,100],"labelExpr":"datum.value < 0.005 ? '10⁻³' : datum.value < 0.05 ? '10⁻²' : datum.value < 0.5 ? '10⁻¹' : datum.value < 5 ? '1' : datum.value < 50 ? '10¹' : '10²'","tickSize":-9,"labelPadding":13,"title":"Mass (M⊙)","titleY":24}},"x2":{"field":"hi"},
      "y":{"field":"r","type":"quantitative","scale":{"domain":[-0.72,0.7],"nice":false,"zero":false},"axis":{"orient":"left","values":[-0.5,0,0.5],"labelExpr":"datum.value < -0.1 ? '−0.5' : datum.value > 0.1 ? '0.5' : '0'","tickSize":-9,"labelPadding":13,"title":"log(Residual)","titleX":-77,"titleBaseline":"middle"}}}},
    {"data":{"name":"reslight"},"mark":{"type":"rule","color":"#b4bcc6","strokeWidth":1.2},
     "encoding":{"x":{"field":"lo","type":"quantitative","scale":{"type":"log","domain":[0.0002,195],"nice":false},"axis":{"orient":"bottom","values":[0.0003,0.0004,0.0005,0.0006,0.0007,0.0008,0.0009,0.002,0.003,0.004,0.005,0.006,0.007,0.008,0.009,0.02,0.03,0.04,0.05,0.06,0.07,0.08,0.09,0.2,0.3,0.4,0.5,0.6,0.7,0.8,0.9,2,3,4,5,6,7,8,9,20,30,40,50,60,70,80,90],"labels":false,"title":null,"tickSize":-5}},"x2":{"field":"hi"},
      "y":{"field":"r","type":"quantitative","scale":{"domain":[-0.72,0.7],"nice":false,"zero":false},"axis":{"orient":"left","values":[-0.7,-0.6,-0.4,-0.3,-0.2,-0.1,0.1,0.2,0.3,0.4,0.6],"labels":false,"title":null,"tickSize":-5}}}},
    {"data":{"name":"respurple"},"mark":{"type":"rule","color":"#7a3070","strokeWidth":1.4},
     "encoding":{"x":{"field":"lo","type":"quantitative","scale":{"type":"log","domain":[0.0002,195],"nice":false},"axis":{"orient":"top","values":[0.001,0.01,0.1,1,10,100],"labels":false,"title":null,"tickSize":-9}},"x2":{"field":"hi"},
      "y":{"field":"r","type":"quantitative","scale":{"domain":[-0.72,0.7],"nice":false,"zero":false},"axis":{"orient":"right","values":[-0.5,0,0.5],"labels":false,"title":null,"tickSize":-9}}}},
    {"data":{"name":"resred"},"mark":{"type":"rule","color":"#c04060","strokeWidth":1.4},
     "encoding":{"x":{"field":"lo","type":"quantitative","scale":{"type":"log","domain":[0.0002,195],"nice":false},"axis":{"orient":"top","values":[0.0003,0.0004,0.0005,0.0006,0.0007,0.0008,0.0009,0.002,0.003,0.004,0.005,0.006,0.007,0.008,0.009,0.02,0.03,0.04,0.05,0.06,0.07,0.08,0.09,0.2,0.3,0.4,0.5,0.6,0.7,0.8,0.9,2,3,4,5,6,7,8,9,20,30,40,50,60,70,80,90],"labels":false,"title":null,"tickSize":-5}},"x2":{"field":"hi"},
      "y":{"field":"r","type":"quantitative","scale":{"domain":[-0.72,0.7],"nice":false,"zero":false},"axis":{"orient":"right","values":[-0.7,-0.6,-0.4,-0.3,-0.2,-0.1,0.1,0.2,0.3,0.4,0.6],"labels":false,"title":null,"tickSize":-5}}}}
   ],
   "resolve":{"axis":{"x":"independent","y":"independent"}}}
 ],"spacing":0},
 {"width":504,"height":504,
  "layer":[
   {"data":{"name":"iramc"},"mark":{"type":"point","shape":"circle","filled":true,"size":26,"color":"#e4632a","opacity":1},
    "encoding":{"x":{"field":"r","type":"quantitative","scale":{"type":"log","domain":[0.001,10],"nice":false},"axis":{"orient":"bottom","values":[0.001,0.01,0.1,1,10],"labelExpr":"datum.value < 0.005 ? '10⁻³' : datum.value < 0.05 ? '10⁻²' : datum.value < 0.5 ? '10⁻¹' : datum.value < 5 ? '1' : '10¹'","labelFontSize":18,"tickSize":-10,"labelPadding":18,"title":"r [pc]","titleX":344,"titleY":22,"titleFontSize":17}},
     "y":{"field":"m","type":"quantitative","scale":{"type":"log","domain":[0.0001,100],"nice":false},"axis":{"orient":"left","values":[0.0001,0.001,0.01,0.1,1,10,100],"labelExpr":"datum.value < 0.0005 ? '10⁻⁴' : datum.value < 0.005 ? '10⁻³' : datum.value < 0.05 ? '10⁻²' : datum.value < 0.5 ? '10⁻¹' : datum.value < 5 ? '1' : datum.value < 50 ? '10¹' : '10²'","labelFontSize":18,"tickSize":-10,"labelPadding":16,"title":"Mass [M⊙]","titleFont":"Liberation Sans","titleFontSize":18,"titleX":-88,"titleBaseline":"middle"}}}},
   {"data":{"name":"irams"},"mark":{"type":"point","shape":"square","filled":false,"size":28,"stroke":"#c65a4a","strokeWidth":1,"opacity":1},
    "encoding":{"x":{"field":"r","type":"quantitative","scale":{"type":"log","domain":[0.001,10],"nice":false},"axis":{"orient":"bottom","values":[0.002,0.003,0.004,0.005,0.006,0.007,0.008,0.009,0.02,0.03,0.04,0.05,0.06,0.07,0.08,0.09,0.2,0.3,0.4,0.5,0.6,0.7,0.8,0.9,2,3,4,5,6,7,8,9],"labels":false,"title":null,"tickSize":-5}},
     "y":{"field":"m","type":"quantitative","scale":{"type":"log","domain":[0.0001,100],"nice":false},"axis":{"orient":"left","values":[0.0002,0.0003,0.0004,0.0005,0.0006,0.0007,0.0008,0.0009,0.002,0.003,0.004,0.005,0.006,0.007,0.008,0.009,0.02,0.03,0.04,0.05,0.06,0.07,0.08,0.09,0.2,0.3,0.4,0.5,0.6,0.7,0.8,0.9,2,3,4,5,6,7,8,9,20,30,40,50,60,70,80,90],"labels":false,"title":null,"tickSize":-5}}}},
   {"data":{"name":"kosma"},"mark":{"type":"point","shape":"M-1,-1L1,1M-1,1L1,-1","filled":false,"size":30,"stroke":"#e066b8","strokeWidth":1.1,"opacity":1},
    "encoding":{"x":{"field":"r","type":"quantitative","scale":{"type":"log","domain":[0.001,10],"nice":false},"axis":{"orient":"top","values":[0.001,0.01,0.1,1,10],"labels":false,"title":null,"tickSize":-10}},
     "y":{"field":"m","type":"quantitative","scale":{"type":"log","domain":[0.0001,100],"nice":false},"axis":{"orient":"right","values":[0.0001,0.001,0.01,0.1,1,10,100],"labels":false,"title":null,"tickSize":-10}}}},
   {"data":{"name":"cfa"},"mark":{"type":"point","shape":"square","filled":true,"size":44,"fill":"#7552a6","stroke":"#4b3272","strokeWidth":0.8,"opacity":1},
    "encoding":{"x":{"field":"r","type":"quantitative","scale":{"type":"log","domain":[0.001,10],"nice":false},"axis":{"orient":"top","values":[0.002,0.003,0.004,0.005,0.006,0.007,0.008,0.009,0.02,0.03,0.04,0.05,0.06,0.07,0.08,0.09,0.2,0.3,0.4,0.5,0.6,0.7,0.8,0.9,2,3,4,5,6,7,8,9],"labels":false,"title":null,"tickSize":-5}},
     "y":{"field":"m","type":"quantitative","scale":{"type":"log","domain":[0.0001,100],"nice":false},"axis":{"orient":"right","values":[0.0002,0.0003,0.0004,0.0005,0.0006,0.0007,0.0008,0.0009,0.002,0.003,0.004,0.005,0.006,0.007,0.008,0.009,0.02,0.03,0.04,0.05,0.06,0.07,0.08,0.09,0.2,0.3,0.4,0.5,0.6,0.7,0.8,0.9,2,3,4,5,6,7,8,9,20,30,40,50,60,70,80,90],"labels":false,"title":null,"tickSize":-5}}}},
   {"data":{"values":[{"r":0.01318,"m":0.0001},{"r":5.08,"m":100}]},"mark":{"type":"line","clip":true,"color":"#3a2a2a","strokeWidth":1.2},
    "encoding":{"x":{"field":"r","type":"quantitative","axis":null},"y":{"field":"m","type":"quantitative","axis":null}}},
   {"data":{"values":[{"r":0.00197,"m":19.3,"t":"M∝r"}]},"mark":{"type":"text","align":"left","baseline":"middle","fontSize":15,"color":"#111"},
    "encoding":{"x":{"field":"r","type":"quantitative","axis":null},"y":{"field":"m","type":"quantitative","axis":null},"text":{"field":"t"}}},
   {"data":{"values":[{"r":0.0035,"m":24,"t":"(2.31±0.05)"}]},"mark":{"type":"text","align":"left","baseline":"middle","fontSize":11,"color":"#111"},
    "encoding":{"x":{"field":"r","type":"quantitative","axis":null},"y":{"field":"m","type":"quantitative","axis":null},"text":{"field":"t"}}},
   {"data":{"values":[{"r":2.32,"m":4.6,"t":"CfA"}]},"mark":{"type":"text","align":"left","baseline":"middle","fontSize":16,"color":"#333"},
    "encoding":{"x":{"field":"r","type":"quantitative","axis":null},"y":{"field":"m","type":"quantitative","axis":null},"text":{"field":"t"}}},
   {"data":{"values":[{"r":0.557,"m":0.048,"t":"KOSMA"}]},"mark":{"type":"text","align":"left","baseline":"middle","fontSize":16,"color":"#d268b0"},
    "encoding":{"x":{"field":"r","type":"quantitative","axis":null},"y":{"field":"m","type":"quantitative","axis":null},"text":{"field":"t"}}},
   {"data":{"values":[{"r":0.0656,"m":0.00048,"t":"IRAM"}]},"mark":{"type":"text","align":"left","baseline":"middle","fontSize":16,"color":"#c4584a"},
    "encoding":{"x":{"field":"r","type":"quantitative","axis":null},"y":{"field":"m","type":"quantitative","axis":null},"text":{"field":"t"}}}
  ],
  "resolve":{"axis":{"x":"independent","y":"independent"}}}
],
"spacing":48
}
